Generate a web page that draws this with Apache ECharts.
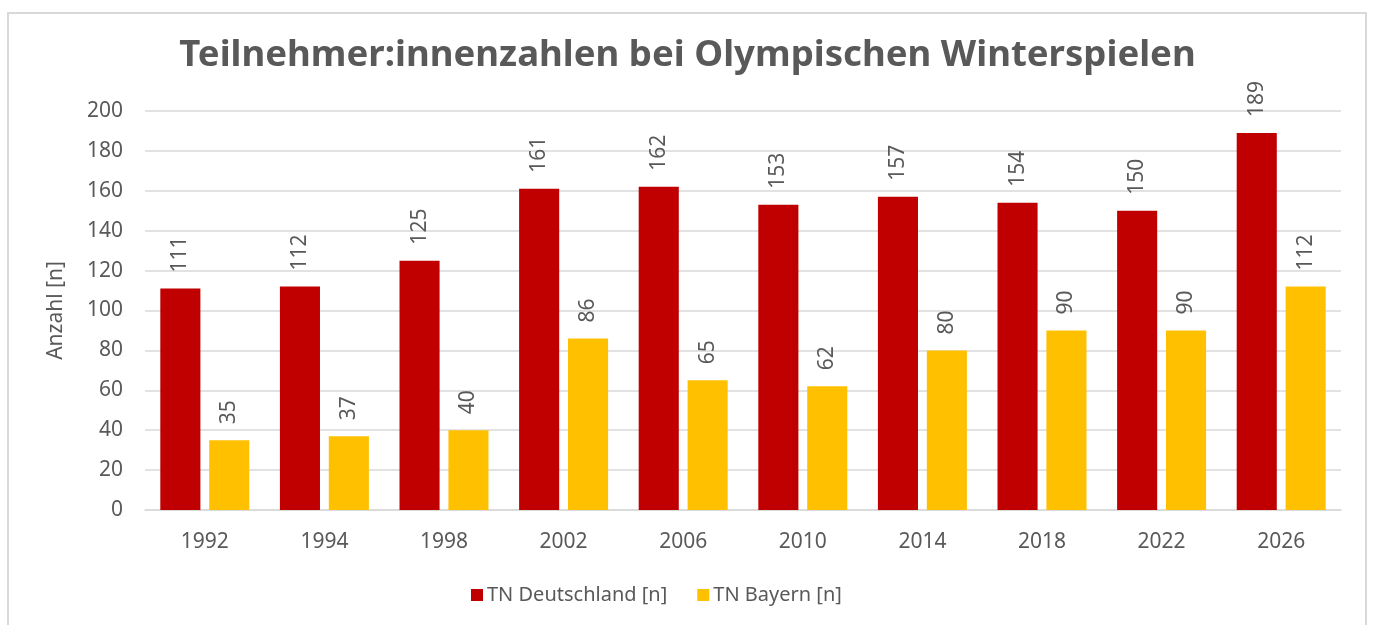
<!DOCTYPE html>
<html><head><meta charset="utf-8">
<script src="https://cdn.jsdelivr.net/npm/echarts@6/dist/echarts.min.js"></script>
<style>html,body{margin:0;padding:0;background:#fff}#c{width:1375px;height:625px}
#frame{position:absolute;left:7px;top:12px;width:1360px;height:620px;border:2px solid #d9d9d9;box-sizing:border-box;pointer-events:none}</style>
</head><body><div id="c"></div><div id="frame"></div>
<script>
const categories = ['1992','1994','1998','2002','2006','2010','2014','2018','2022','2026'];
const deutschland = [111,112,125,161,162,153,157,154,150,189];
const bayern = [35,37,40,86,65,62,80,90,90,112];
const yTicks = {min:0, max:200, interval:20};
const font = '"Noto Sans", sans-serif';
const chart = echarts.init(document.getElementById('c'));
const label = {show:true, position:'top', rotate:90, align:'left', verticalAlign:'middle', distance:16, color:'#595959', fontSize:21, fontFamily:font};
chart.setOption({
  animation:false,
  title:{text:'Teilnehmer:innenzahlen bei Olympischen Winterspielen', left:'center', top:32, textStyle:{fontFamily:font, fontWeight:'bold', fontSize:36.6, color:'#595959'}},
  grid:{left:145, right:34, top:111, bottom:115},
  legend:{bottom:15, left:466, itemWidth:12, itemHeight:12, itemGap:30, itemStyle:{borderWidth:0}, icon:'rect', textStyle:{fontFamily:font, fontSize:20, color:'#595959', padding:[0,0,0,-1]}, data:['TN Deutschland [n]','TN Bayern [n]']},
  xAxis:{type:'category', data:categories, axisTick:{show:false}, axisLine:{lineStyle:{color:'#d9d9d9', width:1.5}}, axisLabel:{fontFamily:font, fontSize:21, color:'#595959', margin:22}},
  yAxis:{type:'value', min:yTicks.min, max:yTicks.max, interval:yTicks.interval, name:'Anzahl [n]', nameLocation:'middle', nameGap:78, nameTextStyle:{fontFamily:font, fontSize:21, color:'#595959'}, axisLabel:{fontFamily:font, fontSize:21, color:'#595959', margin:22}, splitLine:{lineStyle:{color:'#d9d9d9', width:1.5}}},
  series:[
    {name:'TN Deutschland [n]', type:'bar', data:deutschland, barGap:'22%', barCategoryGap:'25.6%', itemStyle:{color:'#C00000'}, label:label},
    {name:'TN Bayern [n]', type:'bar', data:bayern, itemStyle:{color:'#FFC000'}, label:label}
  ]
});
</script></body></html>
